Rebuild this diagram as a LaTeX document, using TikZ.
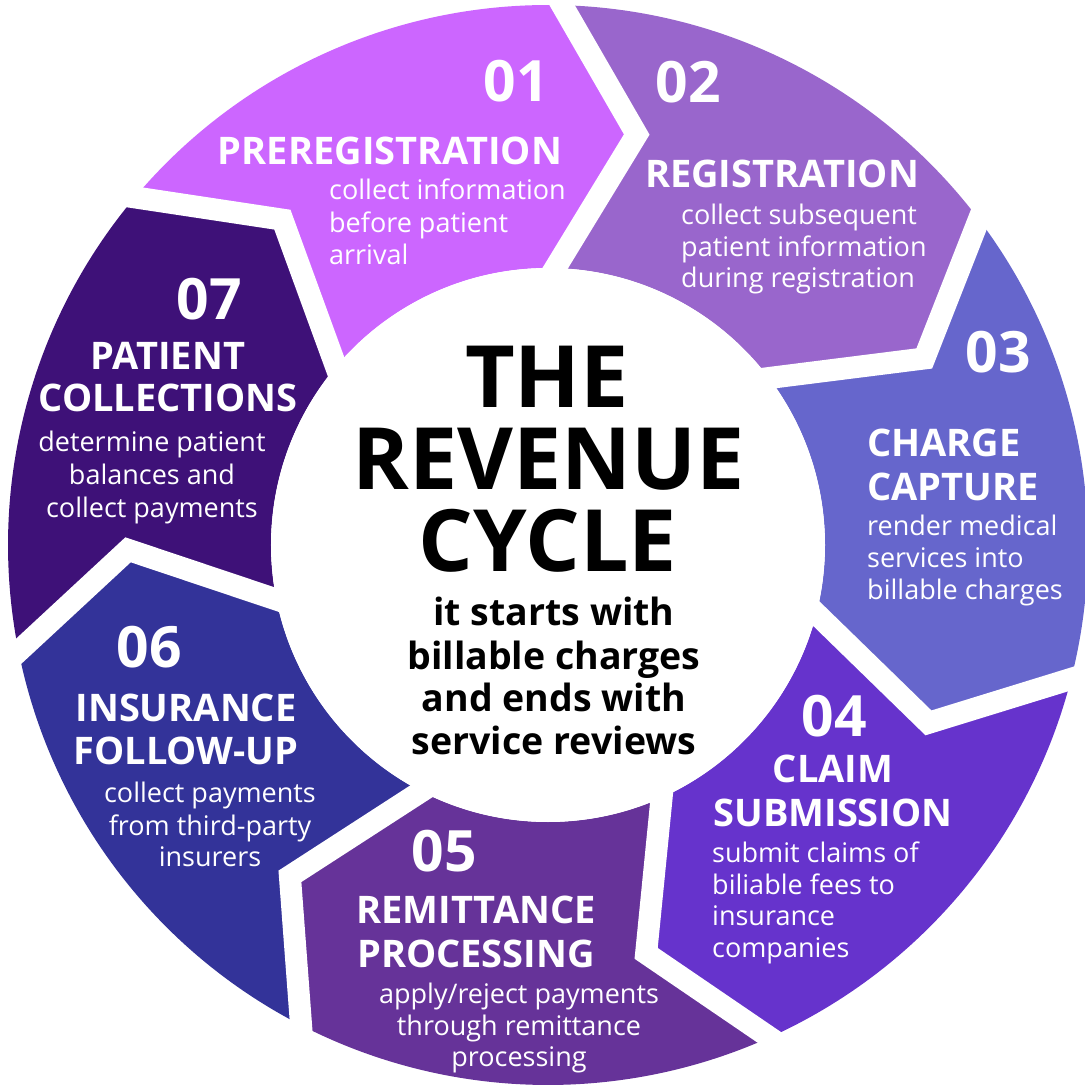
\documentclass[tikz,border=0pt]{standalone}
\usepackage{fontspec}
\setmainfont{Open Sans}
\usetikzlibrary{calc}
\definecolor{cA}{HTML}{CC66FF}
\definecolor{cB}{HTML}{9966CC}
\definecolor{cC}{HTML}{6666CC}
\definecolor{cD}{HTML}{6633CC}
\definecolor{cE}{HTML}{663399}
\definecolor{cF}{HTML}{333399}
\definecolor{cG}{HTML}{3E1178}
\begin{document}
\begin{tikzpicture}[x=1pt,y=1pt,
  num/.style={font=\fontsize{57}{57}\selectfont\bfseries, text=white, inner sep=0pt},
  ttl/.style={font=\fontsize{38}{38}\selectfont\bfseries, text=white, inner sep=0pt},
  dsc/.style={font=\fontsize{27}{27}\selectfont, text=white, inner sep=0pt},
  big/.style={font=\fontsize{86}{86}\selectfont\bfseries, text=black, inner sep=0pt},
  sub/.style={font=\fontsize{37.5}{37.5}\selectfont\bfseries, text=black, inner sep=0pt},
  gap/.style={draw=white, line width=22pt, miter limit=10}]
\useasboundingbox (-548,-544) rectangle (536,545);
\def\R{540}\def\Ri{277}\def\Rm{420}\def\off{10.7}
% ring segments
\foreach \k/\col in {1/cA,2/cB,3/cC,4/cD,5/cE,6/cF,7/cG} {
  \pgfmathsetmacro\ta{88.5-(\k-2)*360/7}
  \pgfmathsetmacro\tb{\ta-360/7}
  \pgfmathsetmacro\ma{\ta-\off}
  \pgfmathsetmacro\mb{\tb-\off}
  \fill[fill=\col] (\ta:\R) arc[start angle=\ta, end angle=\tb, radius=\R]
     -- (\mb:\Rm) -- (\tb:\Ri) arc[start angle=\tb, end angle=\ta, radius=\Ri]
     -- (\ma:\Rm) -- cycle;
}
% white gaps between segments
\foreach \k in {0,...,6} {
  \pgfmathsetmacro\t{88.5-\k*360/7}
  \pgfmathsetmacro\m{\t-\off}
  \draw[gap] ($(\m:\Rm)!1.3!(\t:\R)$) -- (\m:\Rm) -- ($(\m:\Rm)!1.2!(\t:\Ri)$);
}
% center disc
\fill[white] (0,0) circle[radius=\Ri];
\begin{scope}[shift={(-548,545)}, yscale=-1]
% center
\node[big, anchor=base] (t1) at (547,408) {THE};
\node[big, anchor=base] (t2) at (549,490) {REVENUE};
\node[big, anchor=base] (t3) at (548,572) {CYCLE};
\node[sub, anchor=base] (s1) at (554,626) {it starts with};
\node[sub, anchor=base] (s2) at (554,669) {billable charges};
\node[sub, anchor=base] (s3) at (554,711) {and ends with};
\node[sub, anchor=base] (s4) at (554,754) {service reviews};
% 01
\node[num, anchor=base] (n1) at (516,102) {01};
\node[ttl, anchor=base] (h1) at (390,165) {PREREGISTRATION};
\node[dsc, anchor=base west] (d1a) at (329,200) {collect information};
\node[dsc, anchor=base west] (d1b) at (329,233) {before patient};
\node[dsc, anchor=base west] (d1c) at (329,265) {arrival};
% 02
\node[num, anchor=base] (n2) at (688,103) {02};
\node[ttl, anchor=base] (h2) at (782,188) {REGISTRATION};
\node[dsc, anchor=base west] (d2a) at (681,225) {collect subsequent};
\node[dsc, anchor=base west] (d2b) at (681,257) {patient information};
\node[dsc, anchor=base west] (d2c) at (681,288) {during registration};
% 03
\node[num, anchor=base] (n3) at (998,373) {03};
\node[ttl, anchor=base west] (h3a) at (867,457) {CHARGE};
\node[ttl, anchor=base west] (h3b) at (867,501) {CAPTURE};
\node[dsc, anchor=base west] (d3a) at (867,536) {render medical};
\node[dsc, anchor=base west] (d3b) at (867,568) {services into};
\node[dsc, anchor=base west] (d3c) at (867,600) {billable charges};
% 04
\node[num, anchor=base] (n4) at (834,736) {04};
\node[ttl, anchor=base] (h4a) at (833,782) {CLAIM};
\node[ttl, anchor=base] (h4b) at (833,826) {SUBMISSION};
\node[dsc, anchor=base west] (d4a) at (712,862) {submit claims of};
\node[dsc, anchor=base west] (d4b) at (712,894) {biliable fees to};
\node[dsc, anchor=base west] (d4c) at (712,925) {insurance};
\node[dsc, anchor=base west] (d4d) at (712,957) {companies};
% 05
\node[num, anchor=base] (n5) at (444,871) {05};
\node[ttl, anchor=base] (h5a) at (476,923) {REMITTANCE};
\node[ttl, anchor=base] (h5b) at (476,967) {PROCESSING};
\node[dsc, anchor=base] (d5a) at (519,1003) {apply/reject payments};
\node[dsc, anchor=base] (d5b) at (519,1035) {through remittance};
\node[dsc, anchor=base] (d5c) at (519,1066) {processing};
% 06
\node[num, anchor=base] (n6) at (149,667) {06};
\node[ttl, anchor=base] (h6a) at (186,721) {INSURANCE};
\node[ttl, anchor=base] (h6b) at (186,764) {FOLLOW-UP};
\node[dsc, anchor=base] (d6a) at (210,802) {collect payments};
\node[dsc, anchor=base] (d6b) at (210,835) {from third-party};
\node[dsc, anchor=base] (d6c) at (210,866) {insurers};
% 07
\node[num, anchor=base] (n7) at (209,320) {07};
\node[ttl, anchor=base] (h7a) at (168,370) {PATIENT};
\node[ttl, anchor=base] (h7b) at (168,412) {COLLECTIONS};
\node[dsc, anchor=base] (d7a) at (152,452) {determine patient};
\node[dsc, anchor=base] (d7b) at (152,485) {balances and};
\node[dsc, anchor=base] (d7c) at (152,518) {collect payments};
\end{scope}
\end{tikzpicture}
\end{document}
